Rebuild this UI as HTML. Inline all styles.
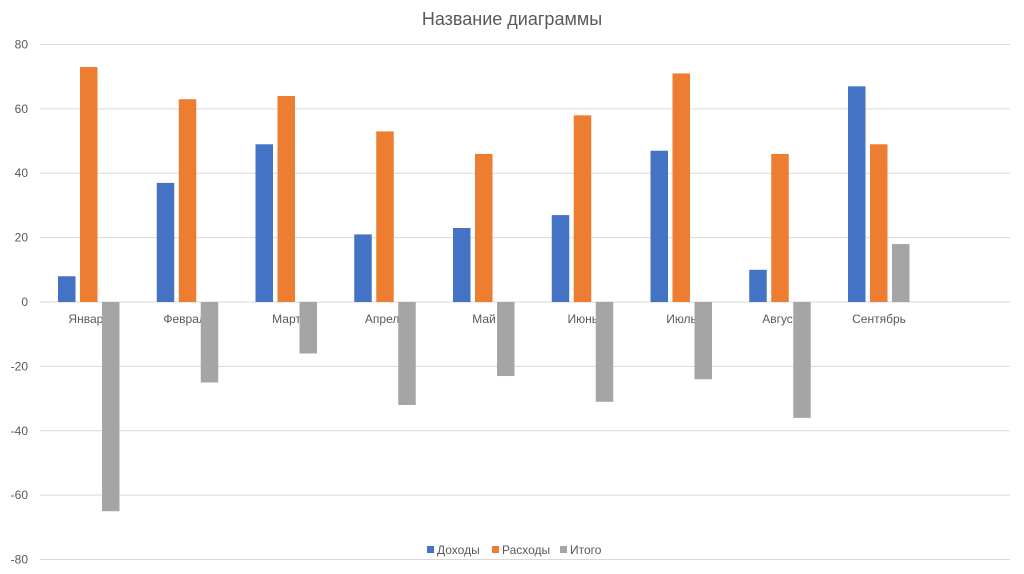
<!DOCTYPE html>
<html><head><meta charset="utf-8"><style>
body{margin:0;background:#fff;}
svg{display:block;font-family:"Liberation Sans",sans-serif;}
</style></head><body>
<svg id="c" width="1024" height="574">
<text x="512" y="25" text-anchor="middle" font-size="18" fill="#595959">Название диаграммы</text>
<g id="grid"></g><g id="labels"></g><g id="bars"></g>
<g font-size="12" fill="#595959">
<rect x="427" y="546" width="7" height="7" fill="#4472c4"/>
<text x="437" y="554">Доходы</text>
<rect x="492" y="546" width="7" height="7" fill="#ed7d31"/>
<text x="502" y="554">Расходы</text>
<rect x="560" y="546" width="7" height="7" fill="#a5a5a5"/>
<text x="570" y="554">Итого</text>
</g>
</svg>
<script>
const categories=["Январь","Февраль","Март","Апрель","Май","Июнь","Июль","Август","Сентябрь"];
const income=[8,37,49,21,23,27,47,10,67];
const expenses=[73,63,64,53,46,58,71,46,49];
const total=[-65,-25,-16,-32,-23,-31,-24,-36,18];
const ticks=[80,60,40,20,0,-20,-40,-60,-80];
const NS="http://www.w3.org/2000/svg";
const y=v=>302-v*3.2188;
const x=i=>40+98.75*i;
function mk(t,a,p){const e=document.createElementNS(NS,t);for(const k in a)e.setAttribute(k,a[k]);p.appendChild(e);return e;}
const grid=document.getElementById('grid'),bars=document.getElementById('bars'),labels=document.getElementById('labels');
ticks.forEach(v=>{
 const l=mk('line',{x1:40,x2:1010,y1:y(v),y2:y(v),stroke:'#d9d9d9','stroke-width':1},grid);
 
 
 const t=mk('text',{x:28,y:y(v)+4,'text-anchor':'end','font-size':12,fill:'#595959'},grid);
 t.textContent=v;
 
 
});
const series=[[income,'#4472c4',18],[expenses,'#ed7d31',40],[total,'#a5a5a5',62]];
categories.forEach((c,i)=>{
 const t=mk('text',{x:x(i)+49,y:323,'text-anchor':'middle','font-size':12,fill:'#595959'},labels);
 t.textContent=c;
 
 
 series.forEach(([d,col,off])=>{
  const v=d[i];
  const r=mk('rect',{x:x(i)+off,width:17.5,y:Math.min(y(v),y(0)),height:Math.abs(y(v)-y(0)),fill:col},bars);
  
  
 });
});
</script>
</body></html>
